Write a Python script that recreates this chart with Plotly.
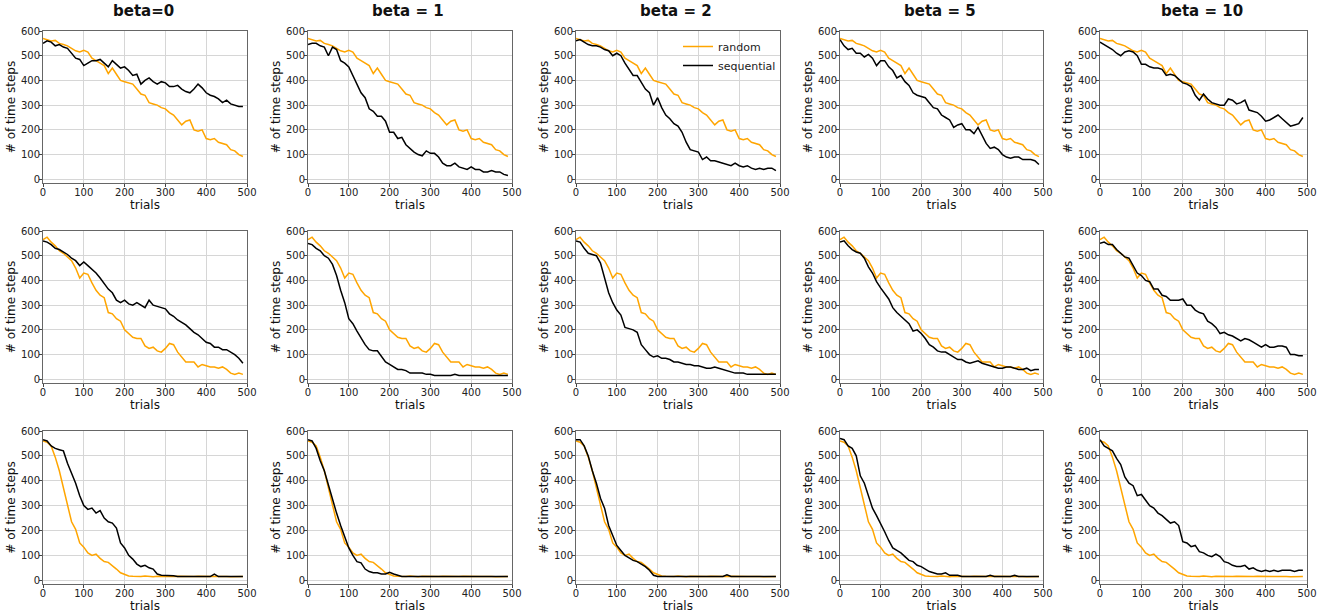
import plotly.graph_objects as go

TRIALS = list(range(0, 500, 10))
BETA_TITLES = ["beta=0", "beta = 1", "beta = 2", "beta = 5", "beta = 10"]
X_TICKS = [0, 100, 200, 300, 400, 500]
Y_TICKS = [0, 100, 200, 300, 400, 500, 600]

# orange "random" curve is the same for every beta in a row
RANDOM_ROW1 = [570, 565, 560, 562, 550, 545, 540, 530, 520, 515,
               522, 515, 490, 480, 470, 460, 428, 450, 425, 400,
               395, 390, 385, 365, 345, 340, 310, 305, 300, 290,
               285, 270, 260, 240, 220, 235, 240, 200, 195, 200,
               165, 160, 165, 150, 145, 140, 120, 115, 100, 92]
RANDOM_ROW2 = [565, 575, 555, 540, 520, 510, 495, 480, 450, 410,
               430, 425, 390, 360, 340, 330, 270, 265, 245, 235,
               200, 185, 170, 165, 165, 135, 125, 130, 115, 110,
               125, 145, 140, 110, 90, 70, 70, 70, 50, 60,
               55, 50, 50, 45, 50, 40, 25, 20, 25, 20]
RANDOM_ROW3 = [560, 555, 540, 495, 440, 375, 305, 235, 205, 150,
               133, 110, 100, 105, 88, 75, 72, 60, 45, 30,
               22, 17, 16, 15, 15, 17, 15, 14, 16, 15,
               14, 15, 15, 16, 15, 14, 15, 15, 16, 15,
               14, 15, 15, 15, 16, 15, 14, 15, 15, 15]

SEQ_ROW1 = [
    [550, 560, 555, 540, 545, 535, 530, 510, 490, 485,
     460, 470, 480, 480, 485, 470, 455, 480, 465, 450,
     455, 440, 420, 425, 385, 400, 410, 395, 385, 395,
     390, 375, 375, 380, 365, 355, 350, 365, 385, 370,
     350, 340, 335, 325, 310, 320, 305, 300, 295, 295],
    [545, 550, 550, 540, 535, 500, 535, 525, 480, 470,
     455, 420, 385, 350, 330, 285, 275, 255, 255, 235,
     190, 190, 165, 170, 140, 125, 110, 100, 95, 115,
     105, 105, 90, 65, 55, 55, 65, 50, 45, 40,
     50, 40, 40, 30, 30, 35, 30, 30, 20, 15],
    [560, 565, 555, 545, 540, 540, 535, 525, 520, 500,
     510, 500, 470, 445, 420, 420, 390, 365, 350, 300,
     330, 290, 260, 245, 225, 215, 190, 150, 120, 115,
     110, 80, 90, 75, 75, 70, 65, 60, 55, 65,
     55, 50, 55, 45, 40, 45, 40, 45, 45, 35],
    [565, 540, 525, 530, 510, 510, 495, 505, 490, 460,
     480, 480, 455, 440, 410, 420, 395, 380, 350, 340,
     335, 330, 310, 290, 285, 260, 250, 240, 210, 220,
     225, 200, 200, 185, 210, 175, 145, 125, 130, 120,
     100, 90, 85, 90, 90, 80, 80, 80, 75, 60],
    [555, 545, 535, 525, 510, 500, 515, 520, 515, 500,
     465, 465, 455, 450, 450, 445, 420, 425, 420, 405,
     390, 385, 375, 340, 320, 345, 325, 310, 305, 300,
     300, 325, 320, 305, 310, 320, 280, 275, 270, 255,
     235, 240, 250, 260, 245, 230, 215, 220, 225, 250],
]
SEQ_ROW2 = [
    [560, 555, 545, 530, 525, 515, 505, 490, 480, 460,
     475, 460, 445, 430, 410, 385, 365, 350, 320, 310,
     320, 305, 300, 310, 300, 290, 320, 300, 295, 290,
     285, 265, 255, 240, 230, 220, 205, 190, 180, 165,
     150, 145, 130, 130, 120, 120, 110, 100, 85, 65],
    [550, 545, 530, 520, 500, 490, 465, 420, 360, 310,
     245, 225, 195, 165, 140, 120, 115, 115, 90, 70,
     60, 50, 40, 40, 35, 25, 25, 25, 25, 20,
     20, 15, 15, 15, 15, 15, 20, 15, 15, 15,
     15, 15, 15, 15, 15, 15, 15, 15, 15, 15],
    [560, 555, 530, 510, 505, 500, 470, 410, 350, 310,
     280, 260, 210, 205, 200, 190, 140, 120, 100, 90,
     95, 85, 85, 80, 70, 70, 65, 60, 60, 55,
     55, 50, 45, 45, 50, 45, 40, 35, 30, 25,
     25, 25, 20, 20, 20, 20, 20, 20, 20, 20],
    [555, 560, 540, 525, 515, 510, 490, 455, 430, 395,
     370, 345, 325, 290, 270, 255, 240, 225, 195, 200,
     185, 165, 140, 130, 115, 110, 110, 100, 90, 80,
     80, 70, 65, 70, 75, 65, 60, 55, 50, 45,
     45, 50, 50, 45, 40, 40, 45, 35, 40, 40],
    [550, 555, 545, 545, 525, 510, 495, 490, 460, 430,
     420, 400, 395, 365, 365, 340, 335, 320, 320, 320,
     325, 300, 300, 280, 270, 265, 235, 225, 210, 185,
     190, 180, 175, 165, 155, 165, 160, 150, 140, 130,
     140, 130, 130, 135, 135, 130, 100, 100, 95, 95],
]
SEQ_ROW3 = [
    [565, 560, 540, 530, 525, 520, 470, 430, 390, 340,
     300, 285, 290, 270, 280, 250, 235, 230, 210, 150,
     130, 100, 85, 65, 55, 60, 50, 45, 25, 20,
     20, 20, 18, 15, 15, 15, 15, 16, 15, 15,
     15, 15, 25, 15, 15, 15, 15, 15, 15, 15],
    [565, 560, 530, 480, 440, 380, 320, 270, 220, 175,
     130, 100, 75, 70, 45, 35, 30, 30, 25, 25,
     32, 25, 20, 15, 15, 15, 15, 15, 15, 15,
     15, 15, 15, 15, 16, 15, 15, 15, 15, 15,
     15, 15, 15, 15, 15, 15, 15, 15, 15, 15],
    [565, 565, 540, 500, 440, 390, 330, 290, 220, 180,
     140, 120, 100, 90, 80, 75, 65, 55, 40, 20,
     15, 15, 15, 15, 15, 15, 15, 15, 15, 15,
     15, 15, 15, 15, 15, 15, 15, 22, 15, 15,
     15, 15, 15, 15, 15, 15, 15, 15, 15, 15],
    [570, 565, 540, 530, 500, 420, 390, 340, 290, 260,
     230, 195, 160, 130, 120, 110, 95, 80, 75, 60,
     55, 45, 35, 30, 25, 25, 30, 20, 20, 20,
     15, 15, 15, 15, 15, 15, 15, 20, 15, 15,
     15, 15, 15, 20, 15, 15, 15, 15, 15, 15],
    [565, 540, 530, 520, 490, 465, 415, 390, 380, 340,
     345, 320, 300, 290, 270, 260, 245, 230, 235, 220,
     155, 150, 135, 140, 115, 110, 100, 95, 105, 95,
     75, 70, 60, 55, 55, 60, 45, 50, 40, 35,
     40, 35, 40, 35, 40, 40, 40, 35, 40, 40],
]

RANDOM_ROWS = [RANDOM_ROW1, RANDOM_ROW2, RANDOM_ROW3]
SEQ_ROWS = [SEQ_ROW1, SEQ_ROW2, SEQ_ROW3]

W, H = 1325, 615
COL_PX = [(43, 247), (308, 512), (576, 780), (840, 1043), (1100, 1307)]
ROW_PX = [(31, 183), (231, 383), (431, 584)]
ORANGE = "#FFA500"
FONT = "DejaVu Sans"


def px_x(v):
    return v / W


def px_y(v):
    return 1 - v / H


fig = go.Figure()
layout = {}
for r in range(3):
    for c in range(5):
        i = r * 5 + c + 1
        xa = "x" if i == 1 else f"x{i}"
        ya = "y" if i == 1 else f"y{i}"
        show_leg = (r == 0 and c == 2)
        fig.add_trace(go.Scatter(x=TRIALS, y=RANDOM_ROWS[r], mode="lines",
                                 line=dict(color=ORANGE, width=1.5),
                                 name="random", showlegend=show_leg,
                                 xaxis=xa, yaxis=ya))
        fig.add_trace(go.Scatter(x=TRIALS, y=SEQ_ROWS[r][c], mode="lines",
                                 line=dict(color="black", width=1.5),
                                 name="sequential", showlegend=show_leg,
                                 xaxis=xa, yaxis=ya))
        x0, x1 = COL_PX[c]
        y0, y1 = ROW_PX[r]
        common = dict(showline=True, mirror=True, linecolor="#666", linewidth=1,
                      showgrid=True, gridcolor="#d6d6d6", gridwidth=1,
                      ticks="outside", ticklen=3, tickcolor="#444",
                      tickfont=dict(family=FONT, size=10, color="#222"),
                      ticklabelstandoff=-3,
                      zeroline=False, automargin=False)
        layout["xaxis" if i == 1 else f"xaxis{i}"] = dict(
            domain=[px_x(x0), px_x(x1)], range=[0, 500], tickvals=X_TICKS,
            anchor=ya, title=dict(text="trials", standoff=0,
                                  font=dict(family=FONT, size=12, color="#111")),
            **common)
        layout["yaxis" if i == 1 else f"yaxis{i}"] = dict(
            domain=[px_y(y1), px_y(y0)], range=[-15, 600], tickvals=Y_TICKS,
            anchor=xa, title=dict(text="# of time steps", standoff=2,
                                  font=dict(family=FONT, size=12, color="#111")),
            **common)

annotations = []
for c, t in enumerate(BETA_TITLES):
    x0, x1 = COL_PX[c]
    annotations.append(dict(text="<b>" + t + "</b>", x=px_x((x0 + x1) / 2 - 2), y=px_y(11),
                            xref="paper", yref="paper", xanchor="center",
                            yanchor="middle", showarrow=False,
                            font=dict(family=FONT, size=15, color="#111")))

fig.update_layout(
    width=W, height=H, margin=dict(l=0, r=0, t=0, b=0, autoexpand=False),
    plot_bgcolor="white", paper_bgcolor="white",
    annotations=annotations,
    legend=dict(x=px_x(678), y=px_y(32), xanchor="left", yanchor="top",
                bgcolor="rgba(0,0,0,0)", font=dict(family=FONT, size=11, color="#222"),
                itemwidth=30, tracegroupgap=0),
    **layout,
)

# remove the browser's default 8px body margin so the figure starts at the page corner
fig.write_html("out.html", config={"displayModeBar": False},
               post_script="document.body.style.margin='0';")
